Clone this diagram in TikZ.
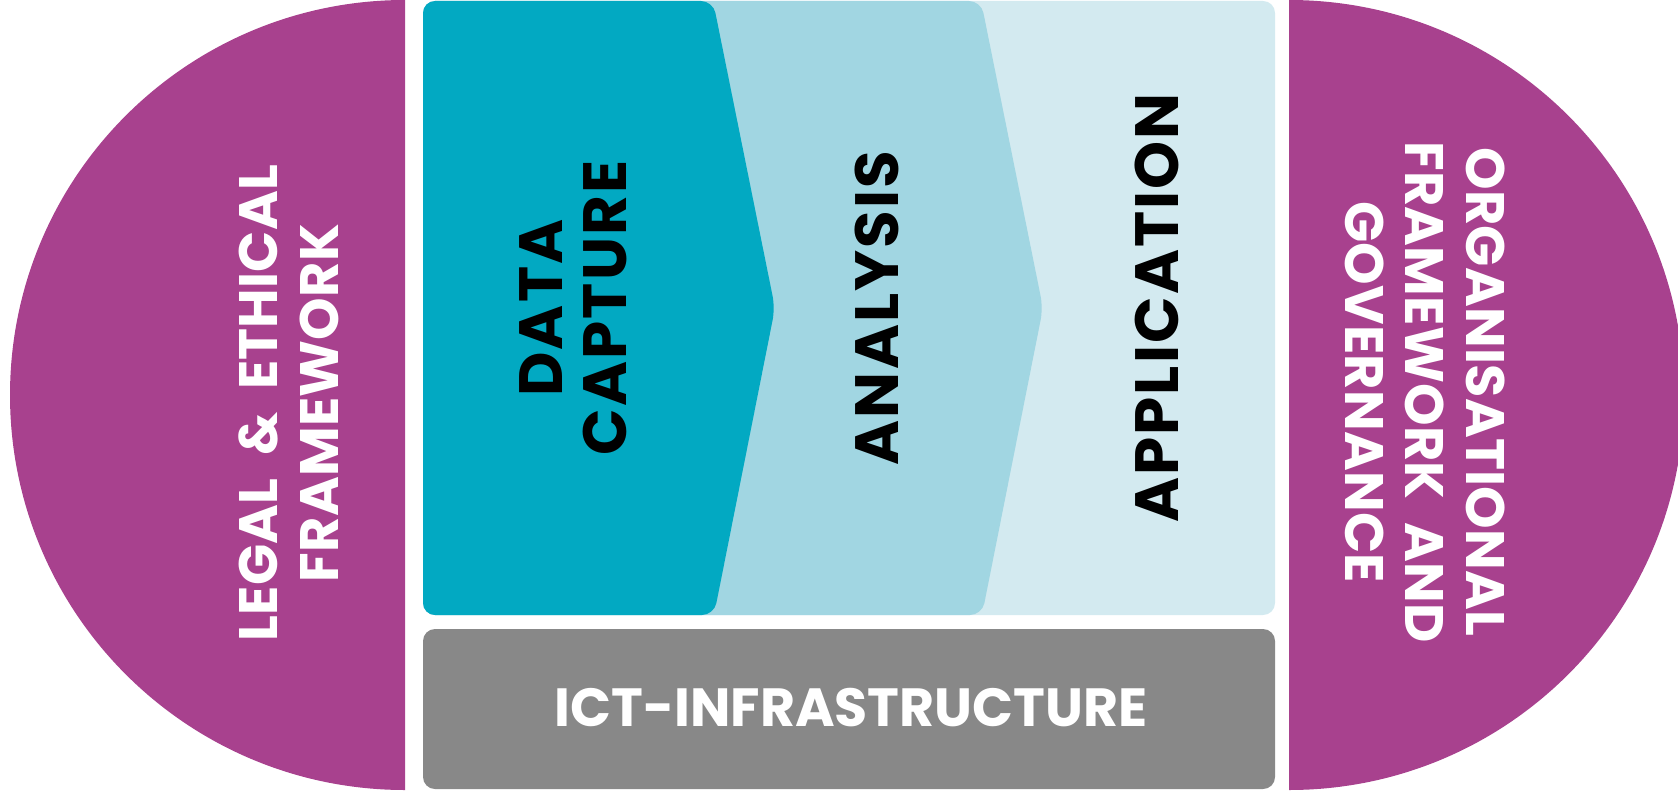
\documentclass[tikz,border=0pt]{standalone}
\usepackage{fontspec}
\setmainfont{Poppins}[BoldFont={Poppins Bold}]
\definecolor{framepurple}{HTML}{A8418E}
\definecolor{captureteal}{HTML}{02A9C2}
\definecolor{analysisblue}{HTML}{A1D6E2}
\definecolor{applicationblue}{HTML}{D3EAF0}
\definecolor{ictgray}{HTML}{888888}
\newcommand{\wordgap}{\hspace{0.42em}}

\begin{document}
\begin{tikzpicture}[
	steptext/.style={font=\bfseries\fontsize{17.4}{18.2}\selectfont\addfontfeatures{LetterSpace=3.5}, align=center, inner sep=0pt, rotate=90},
	frametext/.style={font=\bfseries\fontsize{15.4}{17.2}\selectfont\addfontfeatures{LetterSpace=0.4}, text=white, align=center, inner sep=0pt},
	corner/.style={rounded corners=0.12cm}]
\clip (0,0) rectangle (16.78,7.96);

	%% Rahmen links und rechts
	\fill[framepurple] (4.05,0.06) arc[start angle=270, end angle=90, radius=3.95] -- cycle;
	\fill[framepurple] (12.89,7.96) arc[start angle=90, end angle=-90, radius=3.95] -- cycle;

	%% Prozesskette
	\fill[applicationblue, corner] (4.23,1.81) rectangle (12.75,7.95);
	\fill[analysisblue, corner] (4.23,1.81) -- (4.23,7.95) -- (9.81,7.95) -- (10.43,4.88) -- (9.82,1.81) -- cycle;
	\fill[captureteal, corner] (4.23,1.81) -- (4.23,7.95) -- (7.13,7.95) -- (7.75,4.88) -- (7.14,1.81) -- cycle;

	%% Infrastruktur
	\fill[ictgray, corner] (4.23,0.07) rectangle (12.75,1.67);

	%%%%%%%%%%%%%%%%

	%% Beschriftung
	\node[steptext] (capture) at (5.73,4.88) {DATA\\CAPTURE};
	\node[steptext] (analysis) at (8.77,4.88) {ANALYSIS};
	\node[steptext] (application) at (11.57,4.88) {APPLICATION};

	\node[frametext, rotate=90] (legal) at (2.89,3.93) {LEGAL\wordgap\&\wordgap ETHICAL\\FRAMEWORK};
	\node[frametext, rotate=-90] (governance) at (14.25,4.04) {ORGANISATIONAL\\FRAMEWORK\wordgap AND\\GOVERNANCE};

	\node[frametext, font=\bfseries\fontsize{15.3}{18}\selectfont] (ict) at (8.51,0.88) {ICT-INFRASTRUCTURE};
\end{tikzpicture}
\end{document}
